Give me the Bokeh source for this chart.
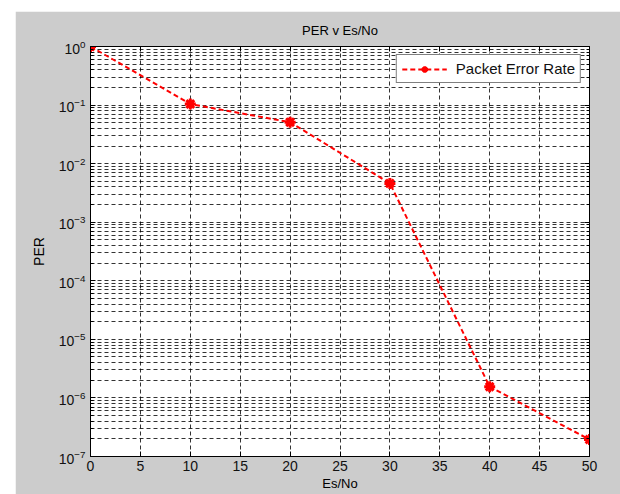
from bokeh.plotting import figure
from bokeh.models import (FixedTicker, LogAxis, LinearAxis, Spacer, Range1d,
                          CustomJSTickFormatter)
from bokeh.layouts import column, row
from bokeh.embed import file_html
from bokeh.resources import INLINE

# data
es_no = [0, 10, 20, 30, 40, 50]
per = [1.0, 0.104, 0.051, 0.0046, 1.55e-6, 1.95e-7]

x_ticks = [0, 5, 10, 15, 20, 25, 30, 35, 40, 45, 50]
y_exps = [-7, -6, -5, -4, -3, -2, -1, 0]
y_ticks = [10.0 ** e for e in y_exps]
y_minor = [m * 10.0 ** e for e in y_exps[:-1] for m in range(2, 10)]

FONT = "Liberation Sans"
GRAY = "#cccccc"

p = figure(width=605, height=483, y_axis_type="log",
           x_range=Range1d(0, 50), y_range=Range1d(1e-7, 1),
           output_backend="svg", toolbar_location=None,
           min_border_left=75, min_border_right=31,
           min_border_top=34, min_border_bottom=38,
           title="PER v Es/No")
p.border_fill_color = GRAY
p.background_fill_color = "white"
p.outline_line_color = "black"
p.outline_line_width = 1

p.title.align = "center"
p.title.text_font = FONT
p.title.text_font_size = "13px"
p.title.text_font_style = "normal"
p.title.text_color = "black"
p.title.offset = 0
p.title.standoff = 18

xt = FixedTicker(ticks=x_ticks)
yt = FixedTicker(ticks=y_ticks, minor_ticks=y_minor)

p.xaxis.ticker = xt
p.yaxis.ticker = yt
p.xaxis.axis_label = "Es/No"
p.yaxis.axis_label = "PER"

for ax in (p.xaxis[0], p.yaxis[0]):
    ax.major_label_text_font = FONT
    ax.major_label_text_font_size = "14px"
    ax.major_label_text_color = "#111111"
    ax.axis_label_text_font = FONT
    ax.axis_label_text_font_size = "14px"
    ax.axis_label_text_font_style = "normal"
    ax.axis_label_text_color = "black"
    ax.major_tick_in = 5
    ax.major_tick_out = 0
    ax.minor_tick_in = 3
    ax.minor_tick_out = 0
    ax.axis_line_color = "black"
    ax.major_tick_line_color = "black"
    ax.minor_tick_line_color = "black"
    ax.major_label_standoff = 5
p.xaxis.major_label_standoff = 4
p.xaxis.axis_label_text_font_size = "13px"
p.xaxis.axis_label_standoff = 2
p.yaxis.axis_label_standoff = 9

blank = CustomJSTickFormatter(code="return ''")
top = LinearAxis(ticker=xt, formatter=blank, major_label_standoff=0,
                 major_tick_in=5, major_tick_out=0, minor_tick_in=0,
                 minor_tick_out=0, axis_line_color="black")
right = LogAxis(ticker=yt, formatter=CustomJSTickFormatter(code="return ''"),
                major_label_standoff=0,
                major_tick_in=5, major_tick_out=0, minor_tick_in=3,
                minor_tick_out=0, axis_line_color="black")
p.add_layout(top, "above")
p.add_layout(right, "right")

p.xgrid.grid_line_color = "black"
p.xgrid.grid_line_alpha = 0.8
p.xgrid.grid_line_dash = "4 3"
p.ygrid.grid_line_color = "black"
p.ygrid.grid_line_alpha = 0.8
p.ygrid.grid_line_dash = "4 3"
p.ygrid.minor_grid_line_color = "black"
p.ygrid.minor_grid_line_alpha = 0.8
p.ygrid.minor_grid_line_dash = "4 3"

p.line(es_no, per, line_color="red", line_width=2, line_dash="5 3",
       legend_label="Packet Error Rate")
p.scatter(es_no, per, marker="asterisk", size=11, line_color="red",
          line_width=3, legend_label="Packet Error Rate")

lg = p.legend[0]
lg.location = "top_right"
lg.margin = 8
lg.padding = 5
lg.border_line_color = "black"
lg.border_line_width = 1
lg.background_fill_color = "white"
lg.background_fill_alpha = 1
lg.label_text_font = FONT
lg.label_text_font_size = "15px"
lg.label_text_color = "#111111"
lg.glyph_width = 45
lg.label_standoff = 9
lg.glyph_height = 16
lg.label_height = 16

layout = column(Spacer(height=11, width=620),
                row(Spacer(width=15, height=483), p))

open("out.html", "w").write(file_html(layout, INLINE))
